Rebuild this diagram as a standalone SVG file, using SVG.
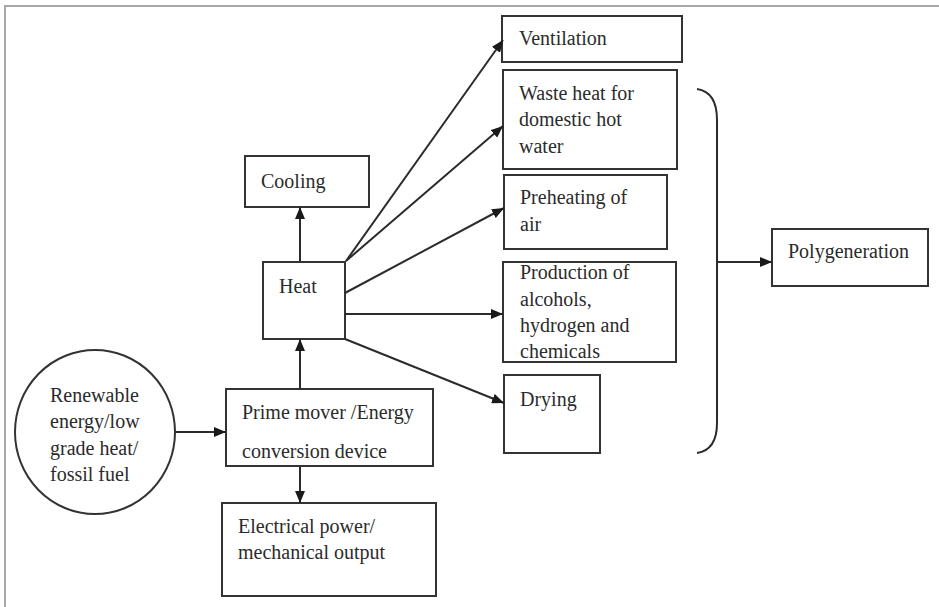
<svg xmlns="http://www.w3.org/2000/svg" width="939" height="607" viewBox="0 0 939 607">
<style>
.box{fill:#fff;stroke:#333;stroke-width:2}
.t{font-family:"Liberation Serif","Times New Roman",serif;font-size:20px;fill:#2b2b2b}
.c{fill:none;stroke:#2b2b2b;stroke-width:2}
</style>
<defs>
<marker id="ah" markerUnits="userSpaceOnUse" markerWidth="12" markerHeight="10" refX="12" refY="5" orient="auto">
<path d="M0,0 L12,5 L0,10 Z" fill="#1a1a1a"/>
</marker>
</defs>
<rect x="0" y="0" width="939" height="607" fill="#fff"/>
<path d="M5,607 L5,6 L939,6" fill="none" stroke="#a8a8a8" stroke-width="2"/>

<g id="source">
<ellipse cx="95" cy="432" rx="80" ry="82" class="box"/>
<text class="t" x="50" y="402">Renewable</text>
<text class="t" x="50" y="428">energy/low</text>
<text class="t" x="50" y="455">grade heat/</text>
<text class="t" x="50" y="481">fossil fuel</text>
</g>
<g id="primemover">
<rect x="226" y="389" width="207" height="77" class="box"/>
<text class="t" x="242" y="419">Prime mover /Energy</text>
<text class="t" x="242" y="458">conversion device</text>
</g>
<g id="electrical">
<rect x="222" y="503" width="214" height="93" class="box"/>
<text class="t" x="238" y="533">Electrical power/</text>
<text class="t" x="238" y="559">mechanical output</text>
</g>
<g id="heat">
<rect x="263" y="262" width="82" height="77" class="box"/>
<text class="t" x="279" y="293">Heat</text>
</g>
<g id="cooling">
<rect x="245" y="156" width="124" height="51" class="box"/>
<text class="t" x="261" y="188">Cooling</text>
</g>
<g id="ventilation">
<rect x="502" y="16" width="180" height="46" class="box"/>
<text class="t" x="519" y="45">Ventilation</text>
</g>
<g id="wasteheat">
<rect x="503" y="70" width="174" height="99" class="box"/>
<text class="t" x="519" y="100">Waste heat for</text>
<text class="t" x="519" y="126">domestic hot</text>
<text class="t" x="519" y="153">water</text>
</g>
<g id="preheating">
<rect x="504" y="175" width="163" height="74" class="box"/>
<text class="t" x="520" y="204">Preheating of</text>
<text class="t" x="520" y="231">air</text>
</g>
<g id="production">
<rect x="503" y="262" width="173" height="100" class="box"/>
<text class="t" x="520" y="279">Production of</text>
<text class="t" x="520" y="306">alcohols,</text>
<text class="t" x="520" y="332">hydrogen and</text>
<text class="t" x="520" y="358">chemicals</text>
</g>
<g id="drying">
<rect x="504" y="375" width="96" height="78" class="box"/>
<text class="t" x="520" y="406">Drying</text>
</g>
<g id="polygeneration">
<rect x="772" y="229" width="156" height="57" class="box"/>
<text class="t" x="788" y="258">Polygeneration</text>
</g>

<g id="connectors">
<line class="c" x1="175" y1="432" x2="226" y2="432" marker-end="url(#ah)"/>
<line class="c" x1="300" y1="389" x2="300" y2="339" marker-end="url(#ah)"/>
<line class="c" x1="300" y1="466" x2="300" y2="503" marker-end="url(#ah)"/>
<line class="c" x1="300" y1="262" x2="300" y2="207" marker-end="url(#ah)"/>
<line class="c" x1="346" y1="261" x2="503" y2="40" marker-end="url(#ah)"/>
<line class="c" x1="346" y1="261" x2="503" y2="126" marker-end="url(#ah)"/>
<line class="c" x1="345" y1="293" x2="504" y2="208" marker-end="url(#ah)"/>
<line class="c" x1="345" y1="314" x2="503" y2="314" marker-end="url(#ah)"/>
<line class="c" x1="345" y1="339" x2="504" y2="403" marker-end="url(#ah)"/>
<path class="c" d="M697,89 Q717,92 717,120 L717,423 Q717,450 697,453"/>
<line class="c" x1="717" y1="262" x2="772" y2="262" marker-end="url(#ah)"/>
</g>
</svg>
